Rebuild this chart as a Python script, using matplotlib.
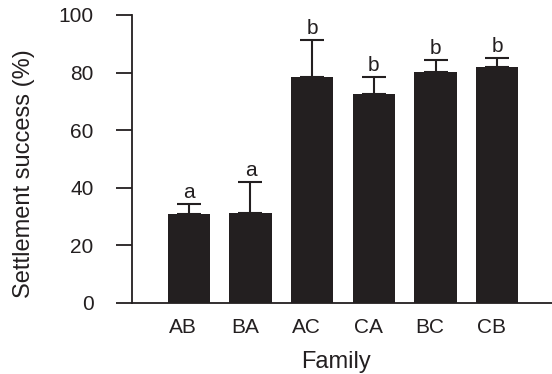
import numpy as np
import matplotlib
matplotlib.use("Agg")
import matplotlib.pyplot as plt
import matplotlib.transforms as mtransforms

plt.rcParams["font.family"] = ["Liberation Sans", "DejaVu Sans"]

INK = "#231f20"
TICK_FONTSIZE = 15
LABEL_FONTSIZE = 17

families = ["AB", "BA", "AC", "CA", "BC", "CB"]
success = [30.7, 31.3, 78.3, 72.6, 80.1, 82.0]
success_err = [3.6, 10.7, 13.0, 6.0, 4.1, 3.1]
groups = ["a", "a", "b", "b", "b", "b"]

fig = plt.figure(figsize=(5.52, 3.74), dpi=100)
ax = fig.add_axes([0.2386, 0.1906, 1 - 0.2386, 0.960 - 0.1906])

xs = np.arange(len(families))
ax.bar(xs, success, width=0.686, color=INK, zorder=2)
ax.errorbar(xs, success, yerr=[np.zeros(len(xs)), success_err], fmt="none",
            ecolor=INK, elinewidth=1.5, capsize=8.6, capthick=1.5, zorder=1)

for x, y, e, g in zip(xs, success, success_err, groups):
    ax.annotate(g, (x, y + e), xytext=(0, 4.3), textcoords="offset points",
                ha="center", va="baseline", fontsize=TICK_FONTSIZE, color=INK)

ax.set_xlim(-0.925, 5.887)
ax.set_ylim(0, 100)
ax.set_yticks([0, 20, 40, 60, 80, 100])
ax.set_xticks(xs, families)

for side in ["top", "right"]:
    ax.spines[side].set_visible(False)
for side in ["left", "bottom"]:
    ax.spines[side].set_linewidth(1.3)
    ax.spines[side].set_color(INK)

ax.tick_params(axis="y", direction="out", length=11.5, width=1.3, pad=16,
               labelsize=TICK_FONTSIZE, colors=INK)
ax.tick_params(axis="x", length=0, pad=11, labelsize=TICK_FONTSIZE, colors=INK)

shift = mtransforms.ScaledTranslation(-4 / 72, 0, fig.dpi_scale_trans)
for lbl in ax.get_xticklabels():
    lbl.set_transform(lbl.get_transform() + shift)

fig.text(24 / 552, 1 - 173.5 / 374, "Settlement success (%)", rotation=90,
         ha="center", va="center", fontsize=LABEL_FONTSIZE, color=INK)
fig.text(335.8 / 552, (374 - 368.3) / 374, "Family", ha="center", va="baseline",
         fontsize=LABEL_FONTSIZE, color=INK)

fig.savefig("out.png", dpi=100)
